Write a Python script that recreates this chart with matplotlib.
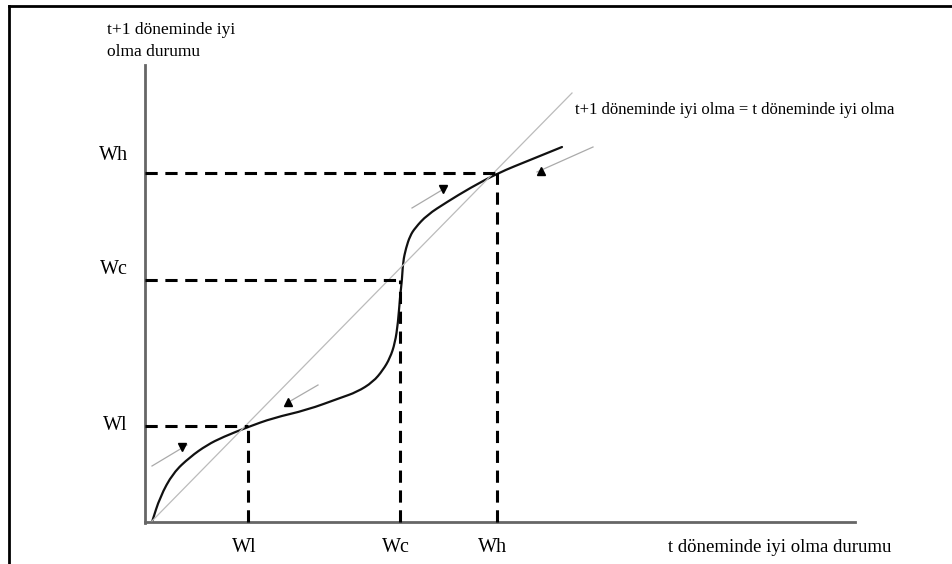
"""Welfare dynamics diagram: S-shaped transition curve with three equilibria."""

import matplotlib.pyplot as plt
from matplotlib.patches import PathPatch
from matplotlib.path import Path

plt.rcParams["font.family"] = ["Liberation Serif", "DejaVu Serif"]

# S-shaped transition curve
curve_x = [7, 15, 28, 45, 62, 78, 103, 128, 162, 195, 212, 228, 238, 245, 250,
           253, 255, 257, 258, 261, 265, 270, 282, 302, 325, 353, 385, 417]
curve_y = [0, 25, 49, 65, 77, 85, 95, 104, 112, 124, 130, 140, 152, 164, 179,
           199, 225, 242, 260, 274, 286, 294, 307, 320, 334, 349, 362, 375]

# 45 degree line
diag_x = [7, 427]
diag_y = [1, 429]

# equilibria
eq_names = ["Wl", "Wc", "Wh"]
eq_x = [103, 255, 352]
eq_y = [96, 242, 349]
eq_label_dy = [0, 10, 18]

# direction arrows: gray stroke, black head
arrow_x0 = [7, 142, 267, 392]
arrow_y0 = [56, 119, 314, 350]
arrow_x1 = [42, 173, 302, 448]
arrow_y1 = [77, 137, 335, 375]
head_x = [37, 143, 298, 396]
head_y = [75, 120, 333, 351]
head_mark = ["v", "^", "v", "^"]

y_title = "t+1 döneminde iyi\nolma durumu"
x_title = "t döneminde iyi olma durumu"
diag_label = "t+1 döneminde iyi olma = t döneminde iyi olma"


def smooth_path(xs, ys):
    """Quadratic bezier path through the midpoints of the given points."""
    pts = list(zip(xs, ys))
    verts = [pts[0]]
    codes = [Path.MOVETO]
    mid = ((pts[0][0] + pts[1][0]) / 2, (pts[0][1] + pts[1][1]) / 2)
    verts.append(mid)
    codes.append(Path.LINETO)
    for i in range(1, len(pts) - 1):
        nxt = ((pts[i][0] + pts[i + 1][0]) / 2, (pts[i][1] + pts[i + 1][1]) / 2)
        verts += [pts[i], nxt]
        codes += [Path.CURVE3, Path.CURVE3]
    verts.append(pts[-1])
    codes.append(Path.LINETO)
    return Path(verts, codes)


fig = plt.figure(figsize=(9.52, 5.64), dpi=100)
ax = fig.add_axes([0, 0, 1, 1])
ax.set_xlim(-145, 807)
ax.set_ylim(-42, 522)
ax.axis("off")

# outer frame (top and left only)
ax.plot([-136, 807], [516, 516], color="black", lw=2)
ax.plot([-136, -136], [-42, 516], color="black", lw=2)

# axes
ax.plot([0, 0], [-1, 457], color="#666666", lw=2)
ax.plot([0, 710], [0, 0], color="#666666", lw=2)

# 45 degree line
ax.plot(diag_x, diag_y, color="#bbbbbb", lw=0.9)

# dashed guides
for x, y in zip(eq_x, eq_y):
    ax.plot([0, x], [y, y], color="black", lw=2.2, ls=(0, (4, 2.5)))
    ax.plot([x, x], [0, y], color="black", lw=2.2, ls=(0, (4, 2.5)))

# transition curve
ax.add_patch(PathPatch(smooth_path(curve_x, curve_y), facecolor="none",
                       edgecolor="#111111", lw=1.6, capstyle="round"))

# arrows
for i in range(len(arrow_x0)):
    ax.plot([arrow_x0[i], arrow_x1[i]], [arrow_y0[i], arrow_y1[i]],
            color="#aaaaaa", lw=0.9)
    ax.plot(head_x[i], head_y[i], marker=head_mark[i], color="black",
            markersize=5.5, lw=0)

# labels
for name, x, y, dy in zip(eq_names, eq_x, eq_y, eq_label_dy):
    ax.text(-17, y + dy, name, ha="right", va="center", fontsize=14.5)
    ax.text(x - 4, -25, name, ha="center", va="center", fontsize=14.5)

ax.text(-38, 500, y_title, ha="left", va="top", fontsize=12.5, linespacing=1.5)
ax.text(523, -25, x_title, ha="left", va="center", fontsize=13.5)
ax.text(430, 412, diag_label, ha="left", va="center", fontsize=12)

fig.savefig("out.png", dpi=100)
